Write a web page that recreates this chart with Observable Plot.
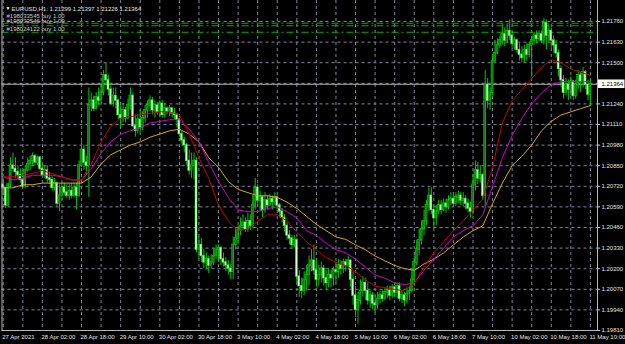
<!DOCTYPE html>
<html><head><meta charset="utf-8">
<script src="https://cdn.jsdelivr.net/npm/d3@7"></script>
<script src="https://cdn.jsdelivr.net/npm/@observablehq/plot@0.6"></script>
<style>html,body{margin:0;padding:0;background:#000;overflow:hidden}</style>
</head><body><div id="chart"></div>
<script>
const symbolTitle = "EURUSD,H1:";
const lastBar = {open: 1.21299, high: 1.21397, low: 1.21226, close: 1.21364};

const opens = [
1.2073,1.2071,1.2060,1.2073,1.2085,1.2083,1.2081,1.2079,1.2076,1.2072,
1.2082,1.2086,1.2088,1.2091,1.2087,1.2090,1.2083,1.2079,1.2082,1.2077,
1.2076,1.2071,1.2074,1.2061,1.2066,1.2071,1.2068,1.2066,1.2069,1.2066,
1.2071,1.2066,1.2085,1.2095,1.2087,1.2085,1.2123,1.2126,1.2121,1.2128,
1.2126,1.2131,1.2142,1.2139,1.2133,1.2124,1.2129,1.2126,1.2117,1.2115,
1.2120,1.2115,1.2123,1.2129,1.2110,1.2107,1.2114,1.2109,1.2115,1.2120,
1.2123,1.2126,1.2120,1.2123,1.2119,1.2124,1.2117,1.2121,1.2119,1.2121,
1.2118,1.2117,1.2114,1.2105,1.2101,1.2098,1.2088,1.2082,1.2085,1.2088,
1.2032,1.2035,1.2028,1.2024,1.2026,1.2022,1.2024,1.2028,1.2032,1.2033,
1.2026,1.2024,1.2022,1.2020,1.2018,1.2035,1.2039,1.2044,1.2047,1.2049,
1.2045,1.2050,1.2047,1.2060,1.2071,1.2063,1.2065,1.2057,1.2063,1.2060,
1.2064,1.2062,1.2065,1.2060,1.2056,1.2052,1.2047,1.2041,1.2039,1.2035,
1.2038,1.2015,1.2009,1.2006,1.2013,1.2016,1.2022,1.2025,1.2019,1.2013,
1.2016,1.2020,1.2014,1.2011,1.2016,1.2014,1.2019,1.2018,1.2022,1.2020,
1.2024,1.2022,1.2025,1.2013,1.2003,1.1994,1.2000,1.2006,1.2011,1.2006,
1.2000,1.2003,1.1998,1.1997,1.2001,1.2003,1.2001,1.2005,1.2006,1.2003,
1.2008,1.2005,1.2009,1.2001,1.2003,1.2000,1.2004,1.2006,1.2013,1.2024,
1.2032,1.2038,1.2045,1.2050,1.2060,1.2066,1.2057,1.2052,1.2056,1.2060,
1.2057,1.2061,1.2059,1.2063,1.2064,1.2061,1.2065,1.2066,1.2063,1.2064,
1.2061,1.2058,1.2056,1.2073,1.2082,1.2077,1.2079,1.2066,1.2136,1.2126,
1.2131,1.2151,1.2156,1.2161,1.2164,1.2168,1.2164,1.2170,1.2167,1.2162,
1.2164,1.2158,1.2155,1.2153,1.2158,1.2155,1.2161,1.2164,1.2167,1.2165,
1.2168,1.2164,1.2175,1.2167,1.2170,1.2164,1.2161,1.2156,1.2146,1.2139,
1.2131,1.2136,1.2133,1.2138,1.2129,1.2136,1.2142,1.2138,1.2144,1.2136,
1.21299];

const highs = [
1.2077,1.2071,1.2074,1.2090,1.2093,1.2090,1.2085,1.2083,1.2082,1.2085,
1.2090,1.2091,1.2093,1.2092,1.2091,1.2091,1.2086,1.2085,1.2085,1.2081,
1.2078,1.2077,1.2074,1.2073,1.2074,1.2074,1.2073,1.2073,1.2074,1.2074,
1.2074,1.2088,1.2102,1.2098,1.2091,1.2134,1.2131,1.2129,1.2131,1.2134,
1.2137,1.2145,1.2150,1.2142,1.2137,1.2134,1.2134,1.2127,1.2123,1.2124,
1.2122,1.2127,1.2134,1.2131,1.2117,1.2117,1.2120,1.2119,1.2123,1.2126,
1.2129,1.2128,1.2126,1.2125,1.2126,1.2126,1.2124,1.2122,1.2123,1.2122,
1.2121,1.2118,1.2115,1.2107,1.2103,1.2099,1.2095,1.2093,1.2093,1.2090,
1.2040,1.2039,1.2032,1.2030,1.2028,1.2029,1.2033,1.2035,1.2035,1.2034,
1.2030,1.2027,1.2025,1.2023,1.2040,1.2046,1.2047,1.2052,1.2054,1.2052,
1.2055,1.2054,1.2066,1.2077,1.2073,1.2069,1.2066,1.2068,1.2066,1.2067,
1.2066,1.2068,1.2066,1.2061,1.2058,1.2054,1.2049,1.2044,1.2041,1.2041,
1.2039,1.2019,1.2014,1.2018,1.2022,1.2028,1.2032,1.2035,1.2026,1.2022,
1.2024,1.2022,1.2019,1.2020,1.2019,1.2021,1.2024,1.2026,1.2025,1.2026,
1.2026,1.2028,1.2026,1.2018,1.2009,1.2005,1.2013,1.2015,1.2014,1.2011,
1.2006,1.2005,1.2003,1.2005,1.2006,1.2006,1.2008,1.2009,1.2009,1.2010,
1.2009,1.2011,1.2011,1.2006,1.2005,1.2008,1.2009,1.2019,1.2028,1.2038,
1.2045,1.2050,1.2057,1.2063,1.2071,1.2071,1.2060,1.2060,1.2063,1.2063,
1.2064,1.2064,1.2066,1.2068,1.2068,1.2068,1.2069,1.2068,1.2068,1.2066,
1.2064,1.2062,1.2079,1.2088,1.2087,1.2085,1.2080,1.2145,1.2140,1.2134,
1.2155,1.2164,1.2165,1.2167,1.2174,1.2172,1.2174,1.2177,1.2170,1.2166,
1.2165,1.2162,1.2160,1.2161,1.2162,1.2163,1.2166,1.2169,1.2170,1.2170,
1.2170,1.2178,1.2177,1.2174,1.2172,1.2167,1.2164,1.2158,1.2148,1.2142,
1.2140,1.2139,1.2141,1.2139,1.2139,1.2145,1.2144,1.2147,1.2145,1.2139,
1.21397];

const lows = [
1.2068,1.2058,1.2059,1.2071,1.2081,1.2077,1.2076,1.2074,1.2071,1.2071,
1.2081,1.2082,1.2085,1.2085,1.2085,1.2082,1.2077,1.2077,1.2074,1.2073,
1.2069,1.2069,1.2059,1.2056,1.2063,1.2066,1.2064,1.2063,1.2064,1.2065,
1.2057,1.2065,1.2084,1.2082,1.2079,1.2065,1.2119,1.2119,1.2120,1.2123,
1.2124,1.2129,1.2136,1.2129,1.2123,1.2122,1.2121,1.2114,1.2109,1.2112,
1.2112,1.2114,1.2120,1.2109,1.2103,1.2105,1.2106,1.2107,1.2112,1.2115,
1.2119,1.2117,1.2115,1.2117,1.2116,1.2115,1.2115,1.2117,1.2116,1.2115,
1.2114,1.2109,1.2103,1.2098,1.2093,1.2085,1.2079,1.2077,1.2076,1.2030,
1.2026,1.2024,1.2020,1.2019,1.2017,1.2020,1.2022,1.2026,1.2024,1.2022,
1.2021,1.2018,1.2016,1.2013,1.2013,1.2032,1.2035,1.2041,1.2044,1.2043,
1.2043,1.2044,1.2045,1.2057,1.2059,1.2056,1.2052,1.2055,1.2057,1.2059,
1.2057,1.2060,1.2057,1.2052,1.2049,1.2043,1.2038,1.2035,1.2032,1.2033,
1.2011,1.2002,1.2001,1.2003,1.2006,1.2009,1.2018,1.2016,1.2008,1.2009,
1.2011,1.2009,1.2006,1.2008,1.2008,1.2009,1.2011,1.2014,1.2016,1.2017,
1.2018,1.2019,1.2008,1.1997,1.1989,1.1985,1.1997,1.2002,1.2000,1.1997,
1.1995,1.1994,1.1992,1.1994,1.1998,1.1999,1.2000,1.2001,1.2000,1.2001,
1.2002,1.2001,1.1999,1.1998,1.1996,1.1998,1.2000,1.2005,1.2009,1.2022,
1.2028,1.2035,1.2041,1.2047,1.2056,1.2054,1.2045,1.2047,1.2054,1.2054,
1.2056,1.2055,1.2057,1.2060,1.2059,1.2059,1.2061,1.2060,1.2059,1.2057,
1.2055,1.2052,1.2054,1.2069,1.2073,1.2074,1.2063,1.2059,1.2121,1.2120,
1.2129,1.2150,1.2155,1.2159,1.2161,1.2160,1.2162,1.2164,1.2159,1.2158,
1.2156,1.2151,1.2150,1.2150,1.2151,1.2153,1.2141,1.2161,1.2162,1.2163,
1.2162,1.2161,1.2158,1.2163,1.2159,1.2156,1.2153,1.2141,1.2134,1.2127,
1.2129,1.2126,1.2129,1.2126,1.2127,1.2133,1.2131,1.2134,1.2133,1.2126,
1.21226];

const closes = [
1.2071,1.2060,1.2073,1.2085,1.2083,1.2081,1.2079,1.2076,1.2072,1.2082,
1.2086,1.2088,1.2091,1.2087,1.2090,1.2083,1.2079,1.2082,1.2077,1.2076,
1.2071,1.2074,1.2061,1.2066,1.2071,1.2068,1.2066,1.2069,1.2066,1.2071,
1.2066,1.2085,1.2095,1.2087,1.2085,1.2123,1.2126,1.2121,1.2128,1.2126,
1.2131,1.2142,1.2139,1.2133,1.2124,1.2129,1.2126,1.2117,1.2115,1.2120,
1.2115,1.2123,1.2129,1.2110,1.2107,1.2114,1.2109,1.2115,1.2120,1.2123,
1.2126,1.2120,1.2123,1.2119,1.2124,1.2117,1.2121,1.2119,1.2121,1.2118,
1.2117,1.2114,1.2105,1.2101,1.2098,1.2088,1.2082,1.2085,1.2088,1.2032,
1.2035,1.2028,1.2024,1.2026,1.2022,1.2024,1.2028,1.2032,1.2033,1.2026,
1.2024,1.2022,1.2020,1.2018,1.2035,1.2039,1.2044,1.2047,1.2049,1.2045,
1.2050,1.2047,1.2060,1.2071,1.2063,1.2065,1.2057,1.2063,1.2060,1.2064,
1.2062,1.2065,1.2060,1.2056,1.2052,1.2047,1.2041,1.2039,1.2035,1.2038,
1.2015,1.2009,1.2006,1.2013,1.2016,1.2022,1.2025,1.2019,1.2013,1.2016,
1.2020,1.2014,1.2011,1.2016,1.2014,1.2019,1.2018,1.2022,1.2020,1.2024,
1.2022,1.2025,1.2013,1.2003,1.1994,1.2000,1.2006,1.2011,1.2006,1.2000,
1.2003,1.1998,1.1997,1.2001,1.2003,1.2001,1.2005,1.2006,1.2003,1.2008,
1.2005,1.2009,1.2001,1.2003,1.2000,1.2004,1.2006,1.2013,1.2024,1.2032,
1.2038,1.2045,1.2050,1.2060,1.2066,1.2057,1.2052,1.2056,1.2060,1.2057,
1.2061,1.2059,1.2063,1.2064,1.2061,1.2065,1.2066,1.2063,1.2064,1.2061,
1.2058,1.2056,1.2073,1.2082,1.2077,1.2079,1.2066,1.2136,1.2126,1.2131,
1.2151,1.2156,1.2161,1.2164,1.2168,1.2164,1.2170,1.2167,1.2162,1.2164,
1.2158,1.2155,1.2153,1.2158,1.2155,1.2161,1.2164,1.2167,1.2165,1.2168,
1.2164,1.2175,1.2167,1.2170,1.2164,1.2161,1.2156,1.2146,1.2139,1.2131,
1.2136,1.2133,1.2138,1.2129,1.2136,1.2142,1.2138,1.2144,1.2136,1.21299,
1.21364];

// moving averages, read every 4 bars
const maBars = [0,4,8,12,16,20,24,28,32,36,40,44,48,52,56,60,64,68,72,76,80,84,88,92,96,100,
104,108,112,116,120,124,128,132,136,140,144,148,152,156,160,164,168,172,176,180,184,188,192,196,
200,204,208,212,216,220,224,228,232,236,240];
const maRed = [1.2078,1.2078,1.2079,1.2080,1.2082,1.2080,1.2078,1.2076,1.2076,1.2086,1.2100,1.2110,
1.2115,1.2116,1.2117,1.2118,1.2119,1.2119,1.2117,1.2105,1.2090,1.2077,1.2060,1.2050,1.2044,1.2045,
1.2050,1.2054,1.2054,1.2050,1.2043,1.2037,1.2032,1.2027,1.2024,1.2022,1.2018,1.2013,1.2009,1.2008,
1.2007,1.2006,1.2011,1.2021,1.2030,1.2037,1.2044,1.2050,1.2057,1.2064,1.2084,1.2112,1.2126,1.2133,
1.2140,1.2147,1.2152,1.2150,1.2146,1.2144,1.2142];
const maMagenta = [1.2078,1.2076,1.2077,1.2079,1.2079,1.2079,1.2078,1.2076,1.2076,1.2083,1.2093,1.2100,
1.2105,1.2107,1.2109,1.2112,1.2113,1.2114,1.2114,1.2108,1.2100,1.2087,1.2075,1.2065,1.2057,1.2056,
1.2056,1.2058,1.2059,1.2056,1.2052,1.2044,1.2041,1.2036,1.2032,1.2030,1.2026,1.2021,1.2016,1.2014,
1.2011,1.2010,1.2011,1.2019,1.2026,1.2033,1.2040,1.2044,1.2047,1.2054,1.2072,1.2090,1.2104,1.2115,
1.2124,1.2131,1.2136,1.2138,1.2138,1.2138,1.2138];
const maYellow = [1.2071,1.2071,1.2073,1.2073,1.2074,1.2074,1.2074,1.2074,1.2074,1.2078,1.2086,1.2092,
1.2095,1.2098,1.2100,1.2103,1.2105,1.2107,1.2108,1.2105,1.2100,1.2090,1.2084,1.2075,1.2070,1.2068,
1.2066,1.2066,1.2065,1.2062,1.2058,1.2053,1.2048,1.2044,1.2040,1.20385,1.2035,1.2032,1.2028,1.2025,
1.2022,1.2020,1.2019,1.2023,1.2026,1.2030,1.2035,1.2040,1.2044,1.2047,1.2061,1.2074,1.2085,1.2091,
1.2098,1.2107,1.2113,1.2117,1.2119,1.2121,1.2123];

const priceTicks = [1.19810,1.19940,1.20070,1.20200,1.20330,1.20460,1.20590,1.20720,1.20850,
1.20980,1.21110,1.21240,1.21370,1.21500,1.21630,1.21760];
const gridBars = d3.range(0, 241, 8);
const timeLabelBars = [0,16,32,48,64,80,96,112,128,144,160,176,192,208,224,240];
const timeLabels = ["27 Apr 2021","28 Apr 02:00","28 Apr 18:00","29 Apr 10:00","30 Apr 02:00",
"30 Apr 18:00","3 May 10:00","4 May 02:00","4 May 18:00","5 May 10:00","6 May 02:00","6 May 18:00",
"7 May 10:00","10 May 02:00","10 May 18:00","11 May 10:00"];
const orderTickets = ["#198033545 buy 1.00","#198033546 buy 1.00","#198024122 buy 1.00"];
const orderPrices = [1.21749, 1.21733, 1.21692];

const candles = closes.map((c, i) => ({i, o: opens[i], h: highs[i], l: lows[i], c}));
const ma = (vals) => maBars.map((b, k) => ({i: b, v: vals[k]}));

const W = 625, H = 344;
const xDomain = [-0.3, 242.9], xRange = [2, 597];
const yDomain = [1.19810, 1.21760], yRange = [330, 21];
const xs = d3.scaleLinear(xDomain, xRange), ys = d3.scaleLinear(yDomain, yRange);
const yTop = ys.invert(0), yBot = yDomain[0];
const xLeft = xs.invert(1.5), xRight = xDomain[1];
const gridColor = "#7d8898";
const txt = "#e4e4e4";
const font = "'Liberation Sans', Arial, sans-serif";
const orderDy = [-7.5, -4.5, -2.8];

const chart = Plot.plot({
  width: W, height: H, margin: 0,
  x: {type: "linear", domain: xDomain, range: xRange, axis: null},
  y: {type: "linear", domain: yDomain, range: yRange, axis: null},
  color: {type: "identity"},
  style: {background: "#000", color: txt, fontFamily: font},
  marks: [
    Plot.ruleY(priceTicks, {y: d => d, x1: xLeft, x2: xRight, stroke: gridColor, strokeDasharray: "3,3"}),
    Plot.ruleX(gridBars, {x: d => d, y1: yTop, y2: yBot, stroke: gridColor, strokeDasharray: "3,3"}),
    Plot.ruleY(orderPrices, {y: d => d, x1: xLeft, x2: xRight, stroke: "#00b000", strokeDasharray: "7,3,2,3"}),
    Plot.ruleY([lastBar.close], {y: d => d, x1: xLeft, x2: xRight, stroke: "#b4b4b4"}),
    Plot.ruleX(candles, {x: "i", y1: "l", y2: "h", stroke: "#00c800", strokeWidth: 1}),
    Plot.rect(candles, {x1: d => d.i - 0.42, x2: d => d.i + 0.42, y1: "o", y2: "c",
      fill: d => d.c > d.o ? "#0b7d0b" : "#d6ffd6", stroke: "#00e000", strokeWidth: 0.5,
      insetTop: -0.4, insetBottom: -0.4}),
    Plot.line(ma(maYellow), {x: "i", y: "v", stroke: "#d8a818", strokeWidth: 1}),
    Plot.line(ma(maMagenta), {x: "i", y: "v", stroke: "#d000d0", strokeWidth: 1}),
    Plot.line(ma(maRed), {x: "i", y: "v", stroke: "#cc0000", strokeWidth: 1}),
    // frame
    Plot.ruleX([xLeft, xRight], {x: d => d, y1: yTop, y2: yBot, stroke: "#b8b8b8"}),
    Plot.ruleY([yBot], {y: d => d, x1: xLeft, x2: xRight, stroke: "#b8b8b8"}),
    Plot.ruleY(priceTicks, {y: d => d, x1: xRight, x2: xs.invert(600), stroke: "#c8c8c8"}),
    // price labels
    Plot.text(priceTicks.filter(p => Math.abs(p - lastBar.close) > 0.0004), {y: d => d, frameAnchor: "right", dx: -24,
      textAnchor: "start", text: d => d.toFixed(5), fill: txt, fontSize: 6}),
    Plot.rect([lastBar.close], {x1: xs.invert(598), x2: xs.invert(624.5), y1: d => d - 0.00027, y2: d => d + 0.00027, fill: "#ffffff"}),
    Plot.text([lastBar.close], {y: d => d, frameAnchor: "right", dx: -24, textAnchor: "start",
      text: d => d.toFixed(5), fill: "#000", fontSize: 6}),
    // time labels
    Plot.text(timeLabels, {x: (d, i) => timeLabelBars[i], frameAnchor: "bottom", dy: -6, dx: -1,
      textAnchor: "start", text: d => d, fill: txt, fontSize: 6}),
    // order labels
    ...orderTickets.map((t, k) => Plot.text([t], {y: orderPrices[k], frameAnchor: "left", dx: 6, dy: orderDy[k],
      textAnchor: "start", text: d => d, fill: "#d0d0d0", fontSize: 6})),
    // header
    Plot.text(["\u25BC"], {frameAnchor: "top-left", dx: 5, dy: 5.5, text: d => d, fill: "#ffffff", fontSize: 5}),
    Plot.text([`${symbolTitle} ${lastBar.open.toFixed(5)} ${lastBar.high.toFixed(5)} ${lastBar.low.toFixed(5)} ${lastBar.close.toFixed(5)}`],
      {frameAnchor: "top-left", dx: 11, dy: 6, textAnchor: "start", text: d => d, fill: txt, fontSize: 6})
  ]
});
document.getElementById("chart").appendChild(chart);
</script></body></html>
